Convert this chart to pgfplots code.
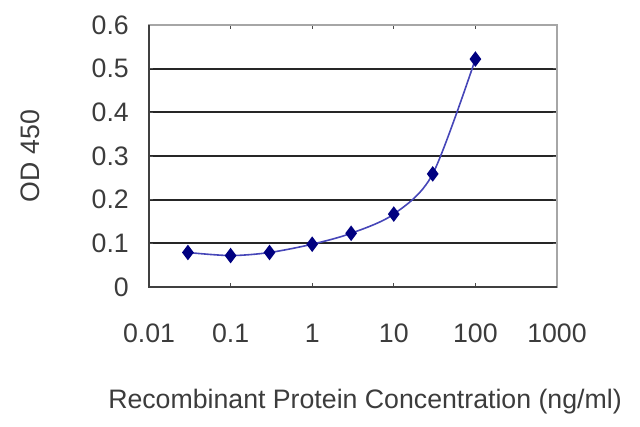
\documentclass[border=0pt]{standalone}
\usepackage{pgfplots}
\pgfplotsset{compat=1.18}
\usepackage{fontspec}
\setmainfont{Liberation Sans}
\definecolor{txt}{HTML}{3C3C3C}
\definecolor{navy}{HTML}{000080}
\definecolor{linec}{HTML}{4646B8}
\begin{document}
\begin{tikzpicture}
\useasboundingbox (0,0) rectangle (640bp,427bp);
\begin{axis}[
  at={(149bp,140bp)}, anchor=south west,
  scale only axis, width=408bp, height=262bp,
  xmode=log, xmin=0.01, xmax=1000,
  ymin=0, ymax=0.6,
  xtick={0.01,0.1,1,10,100,1000},
  xticklabels={0.01,0.1,1,10,100,1000},
  ytick={0,0.1,0.2,0.3,0.4,0.5,0.6},
  yticklabels={0,0.1,0.2,0.3,0.4,0.5,0.6},
  xminorticks=false, yminorticks=false,
  /pgf/number format/assume math mode=true,
  tick align=inside, major tick length=4bp,
  tick style={draw=black!70, line width=1bp},
  ymajorgrids, grid style={draw=black!85, line width=2bp},
  axis line style={draw=black!35, line width=1.6bp},
  ticklabel style={font=\fontsize{26.7bp}{32bp}\selectfont, text=txt, inner sep=0pt},
  xticklabel style={anchor=base, yshift=-55bp},
  yticklabel style={anchor=east, xshift=-20bp},
  label style={font=\fontsize{26.7bp}{32bp}\selectfont, text=txt, inner sep=0pt},
  xlabel={Recombinant Protein Concentration (ng/ml)},
  xlabel style={at={(axis description cs:0.5294,-0.4656)}, anchor=base},
  ylabel={OD 450},
  ylabel style={at={(axis description cs:-0.2917,0.5)}, anchor=center, rotate=0},
  clip=false,
]
\addplot[linec, line width=1.6bp, smooth, mark=diamond*, mark size=6.5bp,
  mark options={fill=navy, draw=navy}]
  coordinates {
  (0.03,0.079) (0.1,0.072) (0.3,0.079) (1,0.098)
  (3,0.123) (10,0.167) (30,0.259) (100,0.522)
  };
\draw[black!75, line width=1.8bp] (rel axis cs:0,1) -- (rel axis cs:0,0) -- (rel axis cs:1,0);
\end{axis}
\end{tikzpicture}
\end{document}
